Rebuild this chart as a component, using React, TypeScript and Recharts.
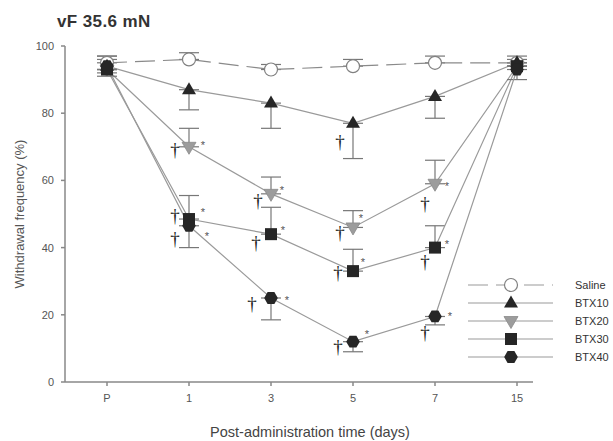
import { LineChart, Line, XAxis, YAxis, ErrorBar } from 'recharts';

const days = ['P', '1', '3', '5', '7', '15'];
const yTicks = [0, 20, 40, 60, 80, 100];

const saline = [95, 96, 93, 94, 95, 95];
const salineErr = [[0, 2], [0, 2], [0, 1.5], [0, 2], [0, 2], [0, 0]];

const btx10 = [94, 87, 83, 77, 85, 95];
const btx10Err = [[2, 2], [6, 0], [7.5, 0], [10.5, 0], [6.5, 0], [2, 2]];
const btx10Dagger = [0, 0, 0, 1, 0, 0];
const btx10Star = [0, 0, 0, 0, 0, 0];

const btx20 = [93, 70, 56, 46, 59, 94];
const btx20Err = [[0, 0], [0, 5.5], [0, 5], [0, 5], [0, 7], [0, 0]];
const btx20Dagger = [0, 1, 1, 1, 1, 0];
const btx20Star = [0, 1, 1, 1, 1, 0];

const btx30 = [93, 48.5, 44, 33, 40, 94];
const btx30Err = [[0, 0], [0, 7], [0, 8], [0, 6.5], [0, 6.5], [0, 0]];
const btx30Dagger = [0, 1, 1, 1, 1, 0];
const btx30Star = [0, 1, 1, 1, 1, 0];

const btx40 = [94, 46.5, 25, 12, 19.5, 93];
const btx40Err = [[3, 3], [6.5, 0], [6.5, 0], [3, 0], [2.5, 0], [3, 3]];
const btx40Dagger = [0, 1, 1, 1, 1, 0];
const btx40Star = [0, 1, 1, 1, 1, 0];

const data = days.map((day, i) => ({
  day,
  saline: saline[i],
  salineErr: salineErr[i],
  btx10: btx10[i],
  btx10Err: btx10Err[i],
  btx20: btx20[i],
  btx20Err: btx20Err[i],
  btx30: btx30[i],
  btx30Err: btx30Err[i],
  btx40: btx40[i],
  btx40Err: btx40Err[i],
}));

const font = "'Liberation Sans', Arial, sans-serif";
const lineGray = '#9a9a9a';
const dark = '#262626';

// where the † and * sit next to each marker (px offsets, per day)
const markPlace: Record<string, { dag: number[][]; star: number[][] }> = {
  btx10: { dag: [[0, 0], [0, 0], [0, 0], [-13, 18], [0, 0], [0, 0]], star: [] },
  btx20: {
    dag: [[0, 0], [-14, 2], [-13, 6], [-13, 5], [-10, 19], [0, 0]],
    star: [[0, 0], [14, -4], [11, -6], [8, -11], [12, 0], [0, 0]],
  },
  btx30: {
    dag: [[0, 0], [-14, -4], [-15, 8], [-15, 1], [-10, 13], [0, 0]],
    star: [[0, 0], [14, -9], [12, -6], [10, -11], [12, -6], [0, 0]],
  },
  btx40: {
    dag: [[0, 0], [-14, 12], [-19, 5], [-15, 4], [-10, 16], [0, 0]],
    star: [[0, 0], [18, 8], [16, 0], [14, -10], [15, -2], [0, 0]],
  },
};

type Kind = 'circle' | 'up' | 'down' | 'square' | 'hex';

function marker(kind: Kind, cx: number, cy: number) {
  if (kind === 'circle') {
    return <circle cx={cx} cy={cy} r={6.5} fill="#fff" stroke="#808080" strokeWidth={1.2} />;
  }
  if (kind === 'up') {
    const p = `${cx},${cy - 7.5} ${cx + 7},${cy + 4.5} ${cx - 7},${cy + 4.5}`;
    return <polygon points={p} fill={dark} />;
  }
  if (kind === 'down') {
    const p = `${cx},${cy + 7.5} ${cx + 7},${cy - 4.5} ${cx - 7},${cy - 4.5}`;
    return <polygon points={p} fill="#9c9c9c" stroke="#8a8a8a" strokeWidth={0.8} />;
  }
  if (kind === 'square') {
    return <rect x={cx - 6} y={cy - 6} width={12} height={12} fill={dark} />;
  }
  const pts = [0, 1, 2, 3, 4, 5]
    .map((k) => {
      const a = (Math.PI / 3) * k;
      return `${cx + 6.8 * Math.cos(a)},${cy + 6.8 * Math.sin(a)}`;
    })
    .join(' ');
  return <polygon points={pts} fill={dark} />;
}

function makeDot(kind: Kind, key?: string, dagger?: number[], star?: number[]) {
  return (props: any) => {
    const { cx, cy, index } = props;
    if (cx == null || cy == null) return <g key={index} />;
    const place = key ? markPlace[key] : undefined;
    const d = place?.dag[index] ?? [-14, 5];
    const s = place?.star[index] ?? [12, -5];
    return (
      <g key={`${kind}-${index}`}>
        {marker(kind, cx, cy)}
        {dagger && dagger[index] ? (
          <text
            x={cx + d[0]}
            y={cy + d[1] + 7}
            textAnchor="middle"
            fontSize={19}
            fill="#222"
            fontFamily="'Liberation Serif', serif"
          >
            †
          </text>
        ) : null}
        {star && star[index] ? (
          <text x={cx + s[0]} y={cy + s[1] + 6} textAnchor="middle" fontSize={11} fill="#555" fontFamily={font}>
            *
          </text>
        ) : null}
      </g>
    );
  };
}

const legendItems: { name: string; kind: Kind; dashed?: boolean }[] = [
  { name: 'Saline', kind: 'circle', dashed: true },
  { name: 'BTX10', kind: 'up' },
  { name: 'BTX20', kind: 'down' },
  { name: 'BTX30', kind: 'square' },
  { name: 'BTX40', kind: 'hex' },
];

function ChartLegend() {
  return (
    <svg width={150} height={100} style={{ position: 'absolute', left: 465, top: 276 }}>
      {legendItems.map((item, i) => {
        const y = 9 + i * 18;
        return (
          <g key={item.name}>
            <line
              x1={3}
              x2={88}
              y1={y}
              y2={y}
              stroke={lineGray}
              strokeWidth={1.2}
              strokeDasharray={item.dashed ? '20 8' : undefined}
            />
            {marker(item.kind, 46, y)}
            <text x={110} y={y + 4} fontSize={11} fill="#333" fontFamily={font}>
              {item.name}
            </text>
          </g>
        );
      })}
    </svg>
  );
}

export default function App() {
  return (
    <div style={{ position: 'absolute', left: 0, top: 0, width: 613, height: 441, background: '#fff', fontFamily: font }}>
      <div
        style={{
          position: 'absolute',
          left: 57,
          top: 12,
          fontSize: 17,
          letterSpacing: 0.4,
          fontWeight: 'bold',
          color: '#333',
        }}
      >
        vF 35.6 mN
      </div>
      <div
        style={{
          position: 'absolute',
          left: 20 - 130,
          top: 214 - 8,
          width: 260,
          textAlign: 'center',
          fontSize: 13,
          color: '#555',
          transform: 'rotate(-90deg)',
          lineHeight: '16px',
        }}
      >
        Withdrawal frequency (%)
      </div>
      <div
        style={{
          position: 'absolute',
          left: 310 - 150,
          top: 424,
          width: 300,
          textAlign: 'center',
          fontSize: 14.5,
          color: '#444',
          lineHeight: '17px',
        }}
      >
        Post-administration time (days)
      </div>

      <LineChart width={613} height={441} data={data} margin={{ top: 46, right: 80, left: 25, bottom: 29 }}>
        <XAxis
          dataKey="day"
          padding={{ left: 42, right: 16 }}
          height={30}
          tickSize={4}
          tickMargin={8}
          stroke="#888"
          strokeWidth={1.5}
          tick={{ fontSize: 11, fill: '#555', fontFamily: font }}
        />
        <YAxis
          domain={[0, 100]}
          ticks={yTicks}
          width={40}
          tickSize={4}
          tickMargin={7}
          stroke="#888"
          strokeWidth={1.5}
          tick={{ fontSize: 11, fill: '#555', fontFamily: font }}
        />
        <Line
          dataKey="saline"
          stroke="#8a8a8a"
          strokeWidth={1.2}
          strokeDasharray="20 8"
          dot={makeDot('circle')}
          activeDot={false}
          isAnimationActive={false}
        >
          <ErrorBar dataKey="salineErr" width={10} stroke="#777" strokeWidth={1.2} direction="y" />
        </Line>
        <Line
          dataKey="btx10"
          stroke={lineGray}
          strokeWidth={1.2}
          dot={makeDot('up', 'btx10', btx10Dagger, btx10Star)}
          activeDot={false}
          isAnimationActive={false}
        >
          <ErrorBar dataKey="btx10Err" width={10} stroke="#777" strokeWidth={1.2} direction="y" />
        </Line>
        <Line
          dataKey="btx20"
          stroke={lineGray}
          strokeWidth={1.2}
          dot={makeDot('down', 'btx20', btx20Dagger, btx20Star)}
          activeDot={false}
          isAnimationActive={false}
        >
          <ErrorBar dataKey="btx20Err" width={10} stroke="#777" strokeWidth={1.2} direction="y" />
        </Line>
        <Line
          dataKey="btx30"
          stroke={lineGray}
          strokeWidth={1.2}
          dot={makeDot('square', 'btx30', btx30Dagger, btx30Star)}
          activeDot={false}
          isAnimationActive={false}
        >
          <ErrorBar dataKey="btx30Err" width={10} stroke="#777" strokeWidth={1.2} direction="y" />
        </Line>
        <Line
          dataKey="btx40"
          stroke={lineGray}
          strokeWidth={1.2}
          dot={makeDot('hex', 'btx40', btx40Dagger, btx40Star)}
          activeDot={false}
          isAnimationActive={false}
        >
          <ErrorBar dataKey="btx40Err" width={10} stroke="#777" strokeWidth={1.2} direction="y" />
        </Line>
      </LineChart>

      <ChartLegend />
    </div>
  );
}
